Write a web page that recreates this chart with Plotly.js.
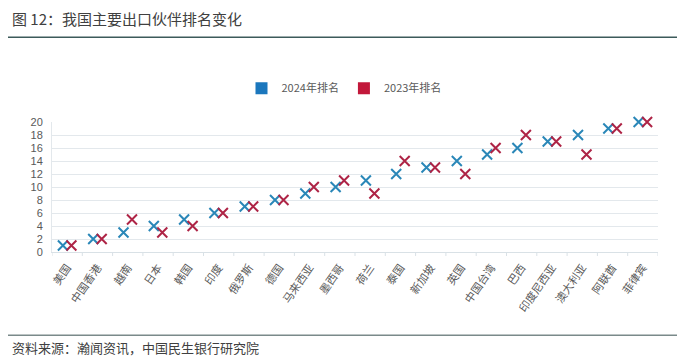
<!DOCTYPE html>
<html><head><meta charset="utf-8">
<script src="https://cdn.plot.ly/plotly-3.0.1.min.js"></script>
<style>html,body{margin:0;padding:0;background:#fff;}#c{width:687px;height:363px;}</style>
</head><body><div id="c"></div>
<script>
const categories = ["美国","中国香港","越南","日本","韩国","印度","俄罗斯","德国","马来西亚","墨西哥","荷兰","泰国","新加坡","英国","中国台湾","巴西","印度尼西亚","澳大利亚","阿联酋","菲律宾"];
const rank2024 = [1,2,3,4,5,6,7,8,9,10,11,12,13,14,15,16,17,18,19,20];
const rank2023 = [1,2,5,3,4,6,7,8,10,11,9,14,13,12,16,18,17,15,19,20];
const yTicks = [0,2,4,6,8,10,12,14,16,18,20];

const W = 687, H = 363;
const L = 52, R = 29, T = 122, B = 110.5;
const pw = W - L - R, ph = H - T - B;
const px = v => (v - L) / pw;
const py = v => (H - B - v) / ph;

const idx = categories.map((_, i) => i);
const off = 0.14;
const blue = '#2a87b8', red = '#ae2446';
const traces = [
  {type:'scatter', mode:'markers', x: idx.map(i => i - off), y: rank2024, showlegend:false, cliponaxis:false,
   marker:{symbol:'x-thin-open', size:10, line:{width:2, color:blue}, color:blue}, hoverinfo:'y'},
  {type:'scatter', mode:'markers', x: idx.map(i => i + off), y: rank2023, showlegend:false, cliponaxis:false,
   marker:{symbol:'x-thin-open', size:10, line:{width:2, color:red}, color:red}, hoverinfo:'y'},
  {type:'scatter', mode:'markers', x:[null], y:[null], name:'2024年排名',
   marker:{symbol:'square', size:12, color:'#1b77bd'}},
  {type:'scatter', mode:'markers', x:[null], y:[null], name:'2023年排名',
   marker:{symbol:'square', size:12, color:'#c2183a'}}
];

const font = '"Noto Sans CJK SC", "Liberation Sans", sans-serif';
const layout = {
  width: W, height: H,
  margin: {l: L, r: R, t: T, b: B, pad: 0},
  paper_bgcolor: '#fff', plot_bgcolor: '#fff',
  font: {family: font, color: '#595959'},
  showlegend: true,
  legend: {orientation: 'h', x: px(344), xanchor: 'center', y: py(88), yanchor: 'middle',
           font: {size: 11, color: '#595959', family: font}, itemwidth: 30, tracegroupgap: 0},
  xaxis: {
    range: [-0.5, categories.length - 0.5],
    tickmode: 'array', tickvals: idx, ticktext: categories,
    tickangle: -55, tickfont: {size: 11, color: '#595959', family: font},
    ticklabelstandoff: 4,
    showgrid: false, zeroline: false,
    showline: true, linecolor: '#d9e1e6', linewidth: 1,
    ticks: '', fixedrange: true
  },
  yaxis: {
    range: [0, 20], tickmode: 'array', tickvals: yTicks,
    tickfont: {size: 11, color: '#595959', family: '"Liberation Sans", Arial, sans-serif'},
    showgrid: true, gridcolor: '#e3e8ec', gridwidth: 1,
    zeroline: false, showline: true, linecolor: '#e3e8ec', ticks: '',
    ticklabelstandoff: 6
  },
  shapes: [
    {type:'line', xref:'paper', yref:'paper', x0: px(8), x1: px(677), y0: py(37), y1: py(37),
     line:{color:'#3c5a5a', width:1.5}},
    {type:'line', xref:'paper', yref:'paper', x0: px(8), x1: px(677), y0: py(336), y1: py(336),
     line:{color:'#7a8a8a', width:1.5}}
  ].concat(idx.concat([categories.length]).map(i => ({
     type:'line', xref:'x', yref:'paper', x0: i - 0.5, x1: i - 0.5, y0: 0, y1: -4/ph,
     line:{color:'#d9e1e6', width:1}}))),
  annotations: [
    {xref:'paper', yref:'paper', x: px(10), y: py(18), xanchor:'left', yanchor:'middle',
     text:'图 12：我国主要出口伙伴排名变化', showarrow:false,
     font:{size:15, color:'#404040', family: font}},
    {xref:'paper', yref:'paper', x: px(10), y: py(348), xanchor:'left', yanchor:'middle',
     text:'资料来源：瀚闻资讯，中国民生银行研究院', showarrow:false,
     font:{size:13, color:'#404040', family: font}}
  ]
};
Plotly.newPlot('c', traces, layout, {displayModeBar:false, staticPlot:true});
</script></body></html>
